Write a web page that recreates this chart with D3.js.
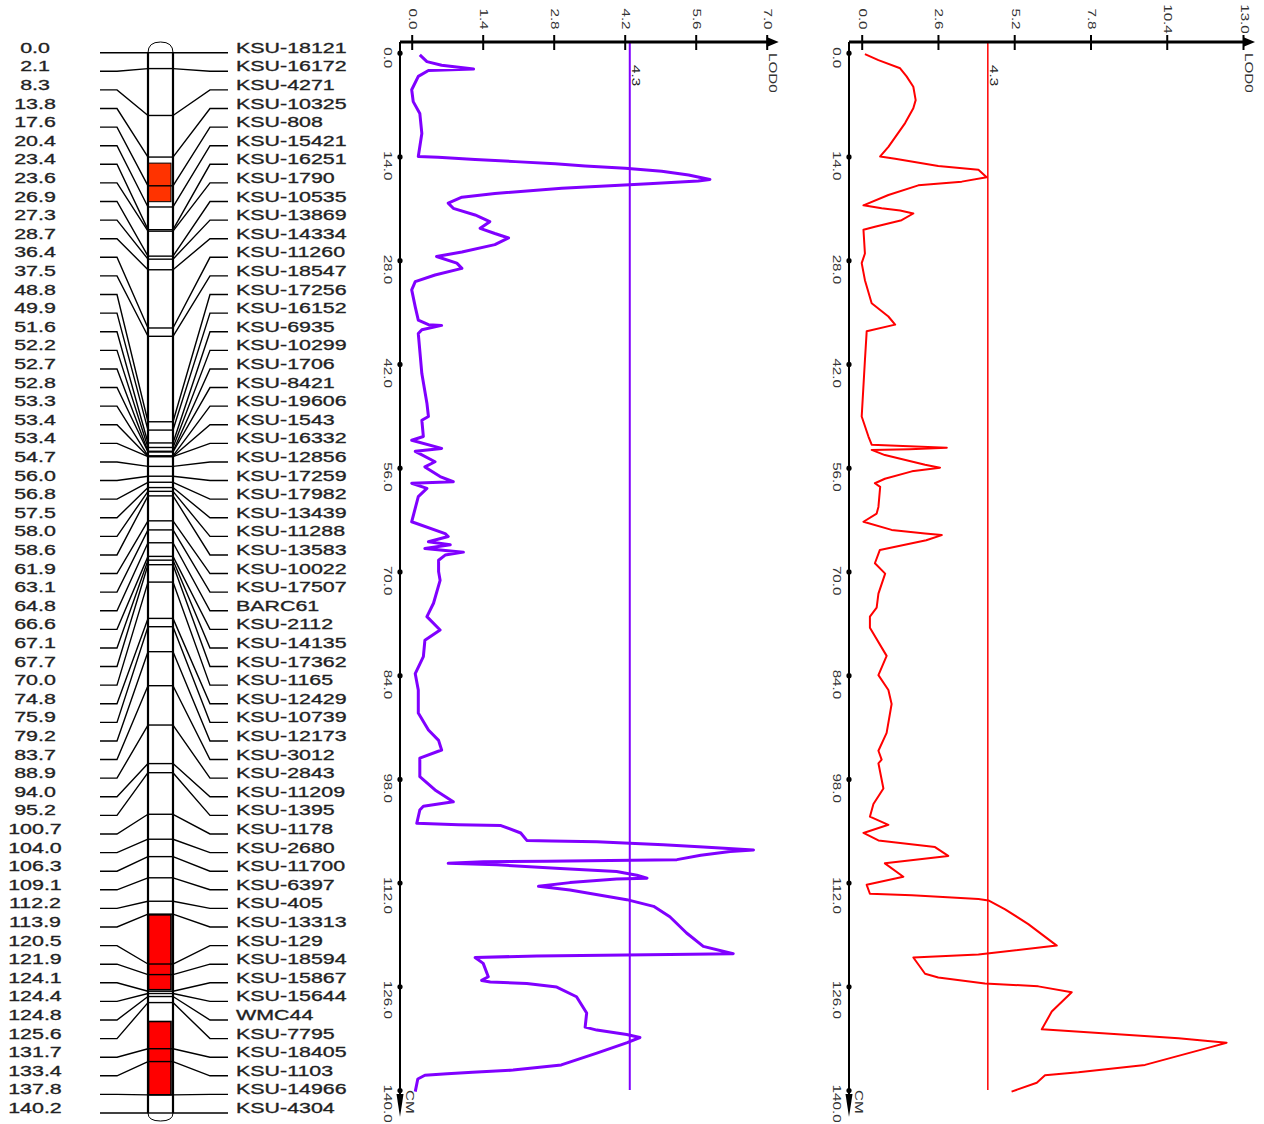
<!DOCTYPE html>
<html><head><meta charset="utf-8">
<script src="https://cdn.jsdelivr.net/npm/d3@7"></script>
<style>body{margin:0;background:#fff}svg{display:block}</style>
</head><body>
<svg id="c" width="1264" height="1124"></svg>
<script>
// ---------- data ----------
const markerPositions = [0.0,2.1,8.3,13.8,17.6,20.4,23.4,23.6,26.9,27.3,28.7,36.4,37.5,48.8,49.9,51.6,52.2,52.7,52.8,53.3,53.4,53.4,54.7,56.0,56.8,57.5,58.0,58.6,61.9,63.1,64.8,66.6,67.1,67.7,70.0,74.8,75.9,79.2,83.7,88.9,94.0,95.2,100.7,104.0,106.3,109.1,112.2,113.9,120.5,121.9,124.1,124.4,124.8,125.6,131.7,133.4,137.8,140.2];
const markerNames = ["KSU-18121","KSU-16172","KSU-4271","KSU-10325","KSU-808","KSU-15421","KSU-16251","KSU-1790","KSU-10535","KSU-13869","KSU-14334","KSU-11260","KSU-18547","KSU-17256","KSU-16152","KSU-6935","KSU-10299","KSU-1706","KSU-8421","KSU-19606","KSU-1543","KSU-16332","KSU-12856","KSU-17259","KSU-17982","KSU-13439","KSU-11288","KSU-13583","KSU-10022","KSU-17507","BARC61","KSU-2112","KSU-14135","KSU-17362","KSU-1165","KSU-12429","KSU-10739","KSU-12173","KSU-3012","KSU-2843","KSU-11209","KSU-1395","KSU-1178","KSU-2680","KSU-11700","KSU-6397","KSU-405","KSU-13313","KSU-129","KSU-18594","KSU-15867","KSU-15644","WMC44","KSU-7795","KSU-18405","KSU-1103","KSU-14966","KSU-4304"];
const qtlStart = [14.6,114.0,128.1];
const qtlEnd = [19.7,123.9,137.8];
const qtlColors = ["#ff3300","#ff0000","#ff0000"];

const lodTicks1 = [0,1.4,2.8,4.2,5.6,7.0];
const lodTicks2 = [0,2.6,5.2,7.8,10.4,13.0];
const cmTicks = [0,14,28,42,56,70,84,98,112,126,140];
const threshold1 = 4.3;
const threshold2 = 4.3;

const trait1CM = [0.3,1.2,1.7,2.2,2.4,3.2,5.0,6.6,8.2,10.9,14.0,14.1,14.4,14.7,15.0,15.3,15.6,16.0,16.5,17.1,17.3,17.7,18.3,19.0,19.5,20.3,21.0,21.9,22.8,23.7,24.4,25.0,25.9,26.9,27.5,28.4,29.1,30.0,30.9,32.0,34.3,36.1,36.7,36.8,37.4,37.9,43.3,47.3,49.1,49.6,51.8,52.3,53.4,53.8,55.2,55.9,57.2,57.9,58.1,58.8,59.9,63.3,64.9,65.3,66.0,66.4,66.9,67.4,67.8,68.5,70.0,71.2,74.3,76.1,77.9,79.3,81.5,83.8,86.0,89.1,91.4,92.8,94.1,95.2,97.7,99.5,101.1,101.7,102.2,104.0,104.2,104.3,105.3,106.3,106.4,106.5,106.7,106.9,107.2,107.6,107.8,108.3,108.9,109.0,109.1,109.2,109.4,109.6,110.1,110.5,111.0,111.4,111.5,112.0,112.5,113.0,114.3,115.2,116.6,118.8,120.6,121.6,121.7,121.9,122.1,122.9,124.7,125.2,125.4,125.6,126.1,127.4,129.6,131.5,131.9,132.5,132.9,133.6,135.0,136.6,137.3,137.6,137.8,138.0,138.5,140.2];
const trait1LOD = [0.16,0.30,0.59,1.22,0.33,0.13,0.00,0.03,0.16,0.20,0.13,0.52,1.25,2.04,2.83,3.42,4.21,4.93,5.46,5.88,5.65,4.67,2.96,1.64,0.99,0.72,0.82,1.25,1.54,1.35,1.64,1.91,1.64,0.99,0.49,0.89,0.99,0.46,0.07,0.00,0.07,0.13,0.33,0.59,0.20,0.13,0.20,0.30,0.33,0.20,0.23,0.00,0.59,0.07,0.46,0.26,0.56,0.82,0.00,0.30,0.13,0.00,0.66,0.72,0.33,0.76,0.26,1.02,0.66,0.53,0.53,0.56,0.43,0.30,0.56,0.26,0.23,0.07,0.13,0.13,0.33,0.53,0.59,0.16,0.16,0.46,0.82,0.23,0.16,0.10,0.92,1.76,2.15,2.27,2.76,3.65,4.30,4.96,5.75,6.74,6.28,5.70,5.23,3.91,2.66,1.41,0.72,1.68,2.93,4.04,4.44,4.64,4.04,3.12,2.50,3.12,4.24,4.77,5.09,5.42,5.75,6.34,5.09,2.47,1.25,1.41,1.51,1.38,1.55,2.27,2.86,3.25,3.45,3.42,3.65,4.24,4.50,4.25,3.65,2.95,2.00,1.20,0.70,0.26,0.12,0.07];

const trait2CM = [0.2,1.0,2.1,3.2,4.6,6.4,7.5,9.5,12.7,14.0,14.3,15.3,15.8,16.8,17.4,17.9,19.2,20.6,21.0,21.3,21.7,22.6,23.5,23.9,27.1,28.4,30.7,33.8,35.6,36.7,37.6,41.5,49.1,51.8,52.9,53.3,53.5,53.6,54.3,55.6,56.0,56.5,57.5,58.1,58.6,61.3,62.2,63.3,64.4,64.9,65.1,65.8,67.1,68.9,70.3,73.0,74.9,76.1,77.6,81.4,84.0,86.0,87.9,91.8,94.2,95.4,95.9,99.3,101.4,103.1,104.2,105.3,106.3,107.2,108.4,109.4,111.2,112.3,113.5,113.7,114.2,114.4,115.6,117.6,120.5,121.7,122.1,124.3,124.8,125.6,126.0,126.8,129.4,131.8,132.5,133.0,133.6,134.2,136.6,137.6,138.0,139.0,140.2];
const trait2LOD = [0.11,0.57,1.31,1.53,1.76,1.84,1.76,1.48,0.91,0.63,1.14,2.61,3.98,4.26,3.41,1.93,0.91,0.06,0.68,1.31,1.76,1.36,0.45,0.06,0.11,0.00,0.11,0.34,0.91,1.14,0.17,0.11,0.00,0.23,0.34,2.90,1.63,0.34,0.79,2.16,2.67,1.71,0.79,0.45,0.63,0.57,0.51,0.06,1.02,2.16,2.73,2.20,0.62,0.45,0.80,0.57,0.51,0.28,0.28,0.85,0.57,0.91,1.02,0.85,0.57,0.68,0.57,0.74,0.40,0.28,0.91,0.06,0.57,2.50,2.95,0.79,1.42,0.17,0.28,1.71,3.98,4.32,4.89,5.68,6.65,3.98,1.76,2.16,2.61,4.20,6.02,7.16,6.48,6.14,8.86,10.80,12.44,11.90,9.66,7.39,6.25,5.97,5.11];

// ---------- drawing ----------
const FONT = "'Liberation Sans', Arial, Helvetica, sans-serif";
const svg = d3.select("#c");
svg.append("rect").attr("width",1264).attr("height",1124).attr("fill","#fff");
const fmt = d3.format(".1f");

// Linkage map
const chrL = 148, chrR = 173, chrC = (chrL+chrR)/2;
const yc = d3.scaleLinear().domain([0,140.2]).range([52.7,1113]);
const yr = d3.scaleLinear().domain([0,markerNames.length-1]).range([52.7,1113]);
const map = svg.append("g");

// QTL boxes
qtlStart.forEach((s,i)=>{
  map.append("rect").attr("x",chrL+0.5).attr("width",chrR-chrL-2.5)
    .attr("y",yc(s)).attr("height",yc(qtlEnd[i])-yc(s))
    .attr("fill",qtlColors[i]).attr("stroke","#000").attr("stroke-width",i===0?1:1.6);
});

// connectors
markerPositions.forEach((p,i)=>{
  const ry = yr(i), cy = yc(p);
  map.append("path").attr("d",`M100,${ry}H117L${chrL},${cy}`)
    .attr("fill","none").attr("stroke","#000").attr("stroke-width",1.4);
  map.append("path").attr("d",`M${chrR},${cy}L210,${ry}H228`)
    .attr("fill","none").attr("stroke","#000").attr("stroke-width",1.4);
  map.append("line").attr("x1",chrL).attr("x2",chrR).attr("y1",cy).attr("y2",cy)
    .attr("stroke","#000").attr("stroke-width",1.4);
  map.append("text").attr("transform",`translate(35,${ry}) scale(1.53,1)`)
    .attr("text-anchor","middle").attr("font-family",FONT).attr("font-size",14)
    .attr("fill","#222").attr("stroke","#222").attr("stroke-width",0.3).text(fmt(p));
  map.append("text").attr("transform",`translate(236,${ry}) scale(1.53,1)`)
    .attr("font-family",FONT).attr("font-size",14).attr("fill","#222")
    .attr("stroke","#222").attr("stroke-width",0.3).text(markerNames[i]);
});
// chromosome body
[chrL,chrR].forEach(x=>map.append("line").attr("x1",x).attr("x2",x)
  .attr("y1",yc(0)).attr("y2",yc(140.2)).attr("stroke","#000").attr("stroke-width",2.2));
map.append("path").attr("d",`M${chrL},${yc(0)}Q${chrL},42 ${chrC},42Q${chrR},42 ${chrR},${yc(0)}`)
  .attr("fill","none").attr("stroke","#000").attr("stroke-width",1);
map.append("path").attr("d",`M${chrL},${yc(140.2)}Q${chrL},1121 ${chrC},1121Q${chrR},1121 ${chrR},${yc(140.2)}`)
  .attr("fill","none").attr("stroke","#000").attr("stroke-width",1);

// LOD panels
const y = d3.scaleLinear().domain([0,140]).range([52.7,1090.1]);

function panel(axisX, x, ticks, cms, lods, thr, color, lw, tw){
  const g = svg.append("g");
  const axisY = 42;
  const tipX = x.range()[1] + 12;
  // threshold
  g.append("line").attr("x1",x(thr)).attr("x2",x(thr)).attr("y1",axisY).attr("y2",y(140))
    .attr("stroke",color).attr("stroke-width",tw);
  g.append("text").attr("transform",`translate(${x(thr)+2.5},65) rotate(90) scale(1.38,1)`)
    .attr("font-family",FONT).attr("font-size",11).attr("fill","#222").text(String(thr));
  // curve
  const pts = cms.map((c,i)=>[c,lods[i]]);
  g.append("path").datum(pts)
    .attr("d",d3.line().x(d=>x(d[1])).y(d=>y(d[0])))
    .attr("fill","none").attr("stroke",color).attr("stroke-width",lw)
    .attr("stroke-linejoin","round");
  // top axis
  g.append("line").attr("x1",axisX).attr("x2",tipX-10).attr("y1",axisY).attr("y2",axisY)
    .attr("stroke","#000").attr("stroke-width",3);
  g.append("path").attr("d",`M${tipX},${axisY}L${tipX-12},${axisY-5}L${tipX-12},${axisY+5}Z`).attr("fill","#000");
  const gx = g.append("g").attr("transform",`translate(0,${axisY})`)
    .call(d3.axisTop(x).tickValues(ticks).tickFormat(fmt).tickSizeOuter(0));
  gx.select(".domain").remove();
  gx.selectAll(".tick line").attr("y1",8).attr("y2",-7).attr("stroke","#000").attr("stroke-width",2);
  gx.selectAll(".tick text").attr("x",null).attr("y",null).attr("dy",null)
    .attr("text-anchor","middle").attr("font-family",FONT).attr("font-size",11).attr("fill","#333")
    .attr("transform","translate(-3,-23) rotate(90) scale(1.38,1)");
  g.append("text").attr("transform",`translate(${x.range()[1]+1.8},53) rotate(90) scale(1.38,1)`)
    .attr("font-family",FONT).attr("font-size",11).attr("fill","#333").text("LOD0");
  // left axis
  g.append("line").attr("x1",axisX).attr("x2",axisX).attr("y1",axisY).attr("y2",1100)
    .attr("stroke","#000").attr("stroke-width",2);
  g.append("path").attr("d",`M${axisX},1117L${axisX-3.5},1094L${axisX+3.5},1094Z`).attr("fill","#000");
  const gy = g.append("g").attr("transform",`translate(${axisX},0)`)
    .call(d3.axisLeft(y).tickValues(cmTicks).tickFormat(fmt).tickSize(0));
  gy.select(".domain").remove();
  gy.selectAll(".tick line").remove();
  gy.selectAll(".tick").append("circle").attr("r",2.6).attr("fill","#000");
  gy.selectAll(".tick text").attr("x",null).attr("y",null).attr("dy",null)
    .attr("text-anchor","start").attr("font-family",FONT).attr("font-size",11).attr("fill","#333")
    .attr("transform","translate(-16.5,-6) rotate(90) scale(1.38,1)");
  g.append("text").attr("transform",`translate(${axisX+6},1090) rotate(90) scale(1.38,1)`)
    .attr("font-family",FONT).attr("font-size",11).attr("fill","#333").text("CM");
}

panel(400, d3.scaleLinear().domain([0,7]).range([411.7,766.7]), lodTicks1, trait1CM, trait1LOD, threshold1, "#8000ff", 3, 2);
panel(849, d3.scaleLinear().domain([0,13]).range([861.7,1243]), lodTicks2, trait2CM, trait2LOD, threshold2, "#ff0000", 2, 1.5);
</script>
</body></html>
